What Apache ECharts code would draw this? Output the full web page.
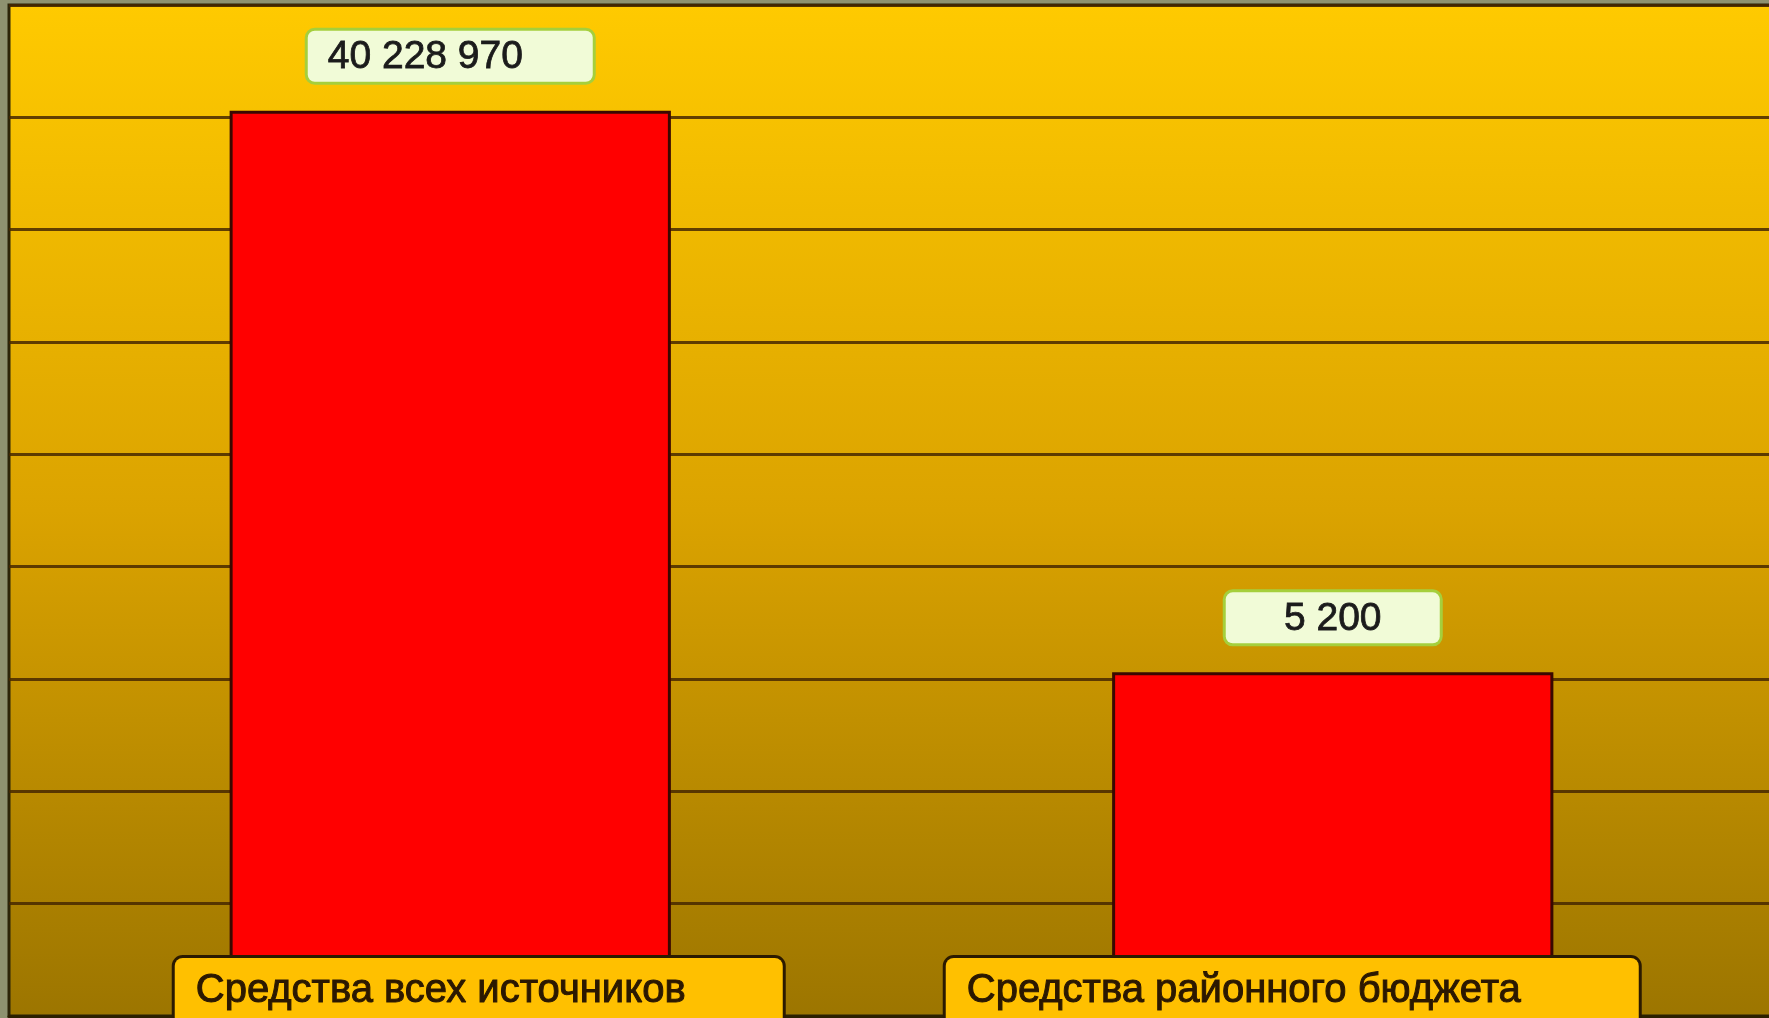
<!DOCTYPE html>
<html><head><meta charset="utf-8">
<script src="https://cdn.jsdelivr.net/npm/echarts@6/dist/echarts.min.js"></script>
<style>html,body{margin:0;padding:0;background:#8e9270;overflow:hidden}#c{width:1769px;height:1018px}</style>
</head><body><div id="c"></div>
<script>
const categories = ['Средства всех источников', 'Средства районного бюджета'];
const values = [40228970, 5200];

const SANS = "'Liberation Sans',Arial,sans-serif";
const fmt = v => String(v).replace(/\B(?=(\d{3})+(?!\d))/g, ' ');

const chart = echarts.init(document.getElementById('c'), null, {renderer: 'canvas'});
const valueBox = {
  fontFamily: SANS, fontSize: 39, lineHeight: 47, color: '#1b1b1b',
  textBorderColor: '#1b1b1b', textBorderWidth: 0.8,
  backgroundColor: '#f1fbd7', borderColor: '#a5cf3c', borderWidth: 3, borderRadius: 7,
  padding: [7, 20, 5, 20]
};
const catBox = {
  fontFamily: SANS, fontSize: 40, lineHeight: 40, color: '#2b1800',
  textBorderColor: '#2b1800', textBorderWidth: 1,
  backgroundColor: '#ffc000', borderColor: '#2b1a00', borderWidth: 3, borderRadius: 8,
  padding: [13, 0, 25, 21], align: 'left'
};
chart.setOption({
  animation: false,
  backgroundColor: '#8e9270',
  grid: {
    left: 9, top: 5, width: 1765, height: 1011, show: true,
    backgroundColor: new echarts.graphic.LinearGradient(0, 0, 0, 1, [
      {offset: 0, color: '#ffca00'}, {offset: 0.5, color: '#dba300'}, {offset: 1, color: '#9c7500'}
    ]),
    borderColor: '#2b2408', borderWidth: 3, outerBoundsMode: 'none', containLabel: false
  },
  xAxis: {
    type: 'category', data: categories, z: 10,
    axisLine: {lineStyle: {color: '#2b2000', width: 3}},
    axisTick: {show: false},
    axisLabel: {
      interval: 0, margin: -39,
      formatter: (v, i) => i === 0 ? '{sp1| }{c1|' + v + '}' : '{c2|' + v + '}{sp2| }',
      rich: {
        sp1: {width: 57, fontSize: 10, align: 'left'},
        sp2: {width: 81, fontSize: 10, align: 'left'},
        c1: Object.assign({}, catBox, {width: 587}),
        c2: Object.assign({}, catBox, {width: 672})
      }
    }
  },
  yAxis: [
    {type: 'log', min: 21.7, max: 2.17e8, startValue: 21.7, show: false},
    {type: 'value', min: 0, max: 9, interval: 1, position: 'left',
     axisLine: {show: false}, axisTick: {show: false}, axisLabel: {show: false},
     splitLine: {lineStyle: {color: 'rgba(70,40,0,0.85)', width: 3}}}
  ],
  series: [{
    type: 'bar', yAxisIndex: 0, data: values, barWidth: '50%',
    itemStyle: {color: '#ff0000', borderColor: '#3a0800', borderWidth: 3},
    label: {
      show: true, position: 'top', distance: 31,
      formatter: p => p.dataIndex === 0 ? '{v1|' + fmt(p.value) + '}' : '{v2|' + fmt(p.value) + '}',
      rich: {
        v1: Object.assign({}, valueBox, {width: 245, align: 'left'}),
        v2: Object.assign({}, valueBox, {width: 174, align: 'center'})
      }
    }
  }]
});
</script></body></html>
